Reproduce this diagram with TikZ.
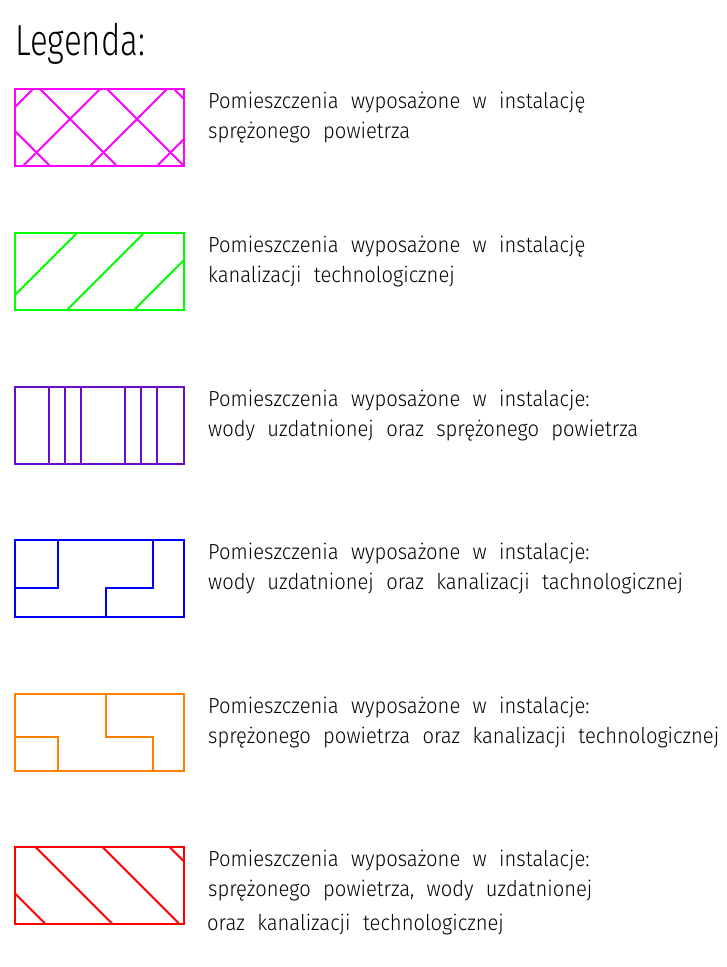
\documentclass[tikz,border=0pt]{standalone}
\usepackage{fontspec}
\IfFontExistsTF{Fira Sans Light}
  {\setmainfont{Fira Sans Light}[WordSpace={2.2},FakeStretch=0.926]
   \newfontfamily\ttlfont{Fira Sans Light}[FakeStretch=0.76]}
  {\setmainfont{DejaVu Sans}[WordSpace={2.2},FakeStretch=0.85]
   \newfontfamily\ttlfont{DejaVu Sans}[FakeStretch=0.7]}
\definecolor{cMag}{HTML}{FF00FF}
\definecolor{cGreen}{HTML}{00FF00}
\definecolor{cPurple}{HTML}{6A0DC8}
\definecolor{cBlue}{HTML}{0000FF}
\definecolor{cOrange}{HTML}{FF8000}
\definecolor{cRed}{HTML}{FF0000}
\begin{document}
\begin{tikzpicture}[x=1pt,y=-1pt,
  sw/.style={line width=1.9pt},
  txt/.style={anchor=base west,inner sep=0pt,font=\fontsize{21.8}{26}\selectfont},
  ttl/.style={anchor=base west,inner sep=0pt,font=\ttlfont\fontsize{43.5}{50}\selectfont}]
\useasboundingbox (0,0) rectangle (726,967);
\node[ttl] (title) at (15,55) {Legenda:};

% 1 magenta
\begin{scope}[shift={(15,89)},draw=cMag,sw]
  \begin{scope}
    \clip (0,0) rectangle (169,77);
    \foreach \c in {18,85,152,219} \draw (\c,0) -- (\c-77,77);
    \foreach \c in {-159,-92,-25,42} \draw (-\c,0) -- (77-\c,77);
  \end{scope}
  \draw (0,0) rectangle (169,77);
\end{scope}
\node[txt] (t1a) at (208,108.5) {Pomieszczenia wyposażone w instalację};
\node[txt] (t1b) at (208,138.5) {sprężonego powietrza};

% 2 green
\begin{scope}[shift={(15,233)},draw=cGreen,sw]
  \begin{scope}
    \clip (0,0) rectangle (169,77);
    \foreach \c in {62,129,196} \draw (\c,0) -- (\c-77,77);
  \end{scope}
  \draw (0,0) rectangle (169,77);
\end{scope}
\node[txt] (t2a) at (208,252.5) {Pomieszczenia wyposażone w instalację};
\node[txt] (t2b) at (208,282.5) {kanalizacji technologicznej};

% 3 purple
\begin{scope}[shift={(15,387)},draw=cPurple,sw]
  \foreach \c in {34,50,66,109.7,125.7,141.7} \draw (\c,0) -- (\c,77);
  \draw (0,0) rectangle (169,77);
\end{scope}
\node[txt] (t3a) at (208,406) {Pomieszczenia wyposażone w instalacje:};
\node[txt] (t3b) at (208,436) {wody uzdatnionej oraz sprężonego powietrza};

% 4 blue
\begin{scope}[shift={(15,540)},draw=cBlue,sw]
  \draw (0,47.7) -- (43.3,47.7) -- (43.3,0);
  \draw (90.7,77) -- (90.7,47.7) -- (137.7,47.7) -- (137.7,0);
  \draw (0,0) rectangle (169,77);
\end{scope}
\node[txt] (t4a) at (208,559.5) {Pomieszczenia wyposażone w instalacje:};
\node[txt] (t4b) at (208,589.5) {wody uzdatnionej oraz kanalizacji tachnologicznej};

% 5 orange
\begin{scope}[shift={(15,694)},draw=cOrange,sw]
  \draw (0,43) -- (43.3,43) -- (43.3,77);
  \draw (90.7,0) -- (90.7,43) -- (137.7,43) -- (137.7,77);
  \draw (0,0) rectangle (169,77);
\end{scope}
\node[txt] (t5a) at (208,713) {Pomieszczenia wyposażone w instalacje:};
\node[txt] (t5b) at (208,743) {sprężonego powietrza oraz kanalizacji technologicznej};

% 6 red
\begin{scope}[shift={(15,847)},draw=cRed,sw]
  \begin{scope}
    \clip (0,0) rectangle (169,77);
    \foreach \c in {46.5,-20.5,-87.5,-154.5} \draw (-\c,0) -- (77-\c,77);
  \end{scope}
  \draw (0,0) rectangle (169,77);
\end{scope}
\node[txt] (t6a) at (208,866.5) {Pomieszczenia wyposażone w instalacje:};
\node[txt] (t6b) at (208,896.5) {sprężonego powietrza, wody uzdatnionej};
\node[txt] (t6c) at (207,930.5) {oraz kanalizacji technologicznej};
\end{tikzpicture}
\end{document}
